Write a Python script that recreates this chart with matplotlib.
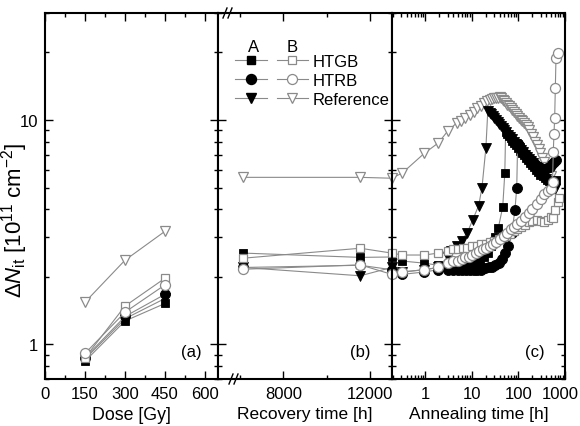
import matplotlib
matplotlib.use('Agg')
import matplotlib.pyplot as plt
import matplotlib.transforms as mtransforms
from matplotlib.ticker import MultipleLocator, LogLocator, NullFormatter, FixedLocator, FixedFormatter
from matplotlib.lines import Line2D

plt.rcParams['font.family'] = ['Liberation Sans', 'DejaVu Sans']
plt.rcParams['mathtext.fontset'] = 'custom'
plt.rcParams['mathtext.rm'] = 'Liberation Sans'
plt.rcParams['mathtext.it'] = 'Liberation Sans:italic'
plt.rcParams['mathtext.bf'] = 'Liberation Sans:bold'

# ---------------- data ----------------
# panel (a): dose
dose = [150, 300, 450]
a_sqA = [0.84, 1.27, 1.52]
a_ciA = [0.87, 1.33, 1.67]
a_refA = [0.86, 1.30, 1.60]
a_sqB = [0.87, 1.48, 1.97]
a_ciB = [0.91, 1.39, 1.84]
a_refB = [1.54, 2.37, 3.19]

# panel (b): recovery time
rec_t = [6150, 11550, 13000]
b_sqA = [2.55, 2.44, 2.45]
b_ciA = [2.2, 2.25, 2.15]
b_refA = [2.2, 2.02, 2.2]
b_sqB = [2.42, 2.68, 2.55]
b_ciB = [2.16, 2.26, 2.05]
b_refB = [5.55, 5.55, 5.5]

# panel (c): annealing time
c_t_refB = [0.19, 0.32, 0.95, 1.9, 3.0, 4.7, 5.8, 7.3, 9.1, 11.2, 13.1, 15.5, 18, 21, 24, 27, 30, 33,
            37, 40, 43, 46, 50, 54, 58, 63, 68, 74, 80, 87, 95, 103, 112, 122, 133, 145, 158, 172,
            188, 205, 225, 245, 270, 295, 325, 360, 400, 440, 490, 540, 610]
c_refB = [5.5, 5.8, 7.1, 7.9, 8.9, 9.7, 9.9, 10.2, 10.5, 10.9, 11.3, 11.6, 11.9, 12.1, 12.3, 12.4, 12.5, 12.5,
          12.5, 12.6, 12.5, 12.3, 12.1, 11.9, 11.7, 11.5, 11.3, 11.1, 10.9, 10.6, 10.4, 10.2, 10.0, 9.85, 9.7, 9.5, 9.3, 9.0,
          8.7, 8.4, 8.0, 7.7, 7.4, 7.15, 6.8, 6.5, 6.2, 5.9, 5.6, 5.3, 4.95]

c_t_refA = [0.19, 0.32, 0.95, 1.9, 3.0, 3.6, 4.7, 6.0, 8.0, 10.5, 14, 16.5, 20,
            22, 24, 26, 28, 30, 33, 36, 39, 42, 46, 50, 55, 60, 66, 72, 79, 87, 95, 105, 115, 127,
            140, 155, 170, 190, 210, 235, 260, 290, 320, 360, 400, 450, 500, 560, 600]
c_refA = [2.2, 2.1, 2.15, 2.2, 2.45, 2.6, 2.75, 2.9, 3.15, 3.6, 4.15, 5.0, 7.5,
          11.0, 10.8, 10.6, 10.4, 10.2, 9.95, 9.75, 9.55, 9.4, 9.2, 9.0, 8.8, 8.6, 8.4, 8.2, 8.0, 7.85, 7.7, 7.5, 7.35, 7.2,
          7.0, 6.85, 6.7, 6.55, 6.4, 6.2, 6.05, 5.9, 5.75, 5.6, 5.45, 5.3, 5.15, 5.0, 4.9]

c_t_sqA = [0.19, 0.32, 0.95, 1.9, 3.0, 4.0, 5.0, 6.0, 8.0, 10, 12, 15, 18, 22, 26, 31, 37, 46, 51, 53,
           57, 62, 68, 74, 81, 89, 97, 107, 118, 130, 143, 158, 175, 195, 215, 240, 265, 295, 330, 370,
           410, 460, 520, 580, 650]
c_sqA = [2.45, 2.35, 2.3, 2.25, 2.2, 2.2, 2.2, 2.2, 2.25, 2.25, 2.3, 2.35, 2.45, 2.55, 2.75, 3.0, 3.3, 4.1, 5.8, 8.8,
         8.7, 8.5, 8.3, 8.1, 7.9, 7.7, 7.5, 7.3, 7.1, 6.95, 6.8, 6.6, 6.45, 6.3, 6.15, 6.0, 5.85, 5.7, 5.6, 5.5,
         5.4, 5.35, 5.3, 5.35, 5.4]

c_t_ciA = [0.19, 0.32, 0.95, 1.9, 3.0, 4.0, 5.0, 6.0, 7.5, 9, 11, 13, 16, 19, 23, 27, 32, 38, 45, 52,
           60, 72, 84, 92, 96, 102, 110, 120, 130, 142, 155, 170, 185, 205, 225, 250, 275, 305, 340, 380,
           420, 470, 530, 590, 650]
c_ciA = [2.15, 2.05, 2.1, 2.15, 2.15, 2.15, 2.15, 2.15, 2.15, 2.15, 2.15, 2.15, 2.15, 2.18, 2.2, 2.22, 2.25, 2.3, 2.4, 2.55,
         2.75, 3.15, 3.95, 5.0, 7.8, 7.7, 7.5, 7.3, 7.15, 7.0, 6.85, 6.7, 6.6, 6.45, 6.35, 6.25, 6.15, 6.1, 6.05, 6.05,
         6.1, 6.2, 6.35, 6.5, 6.6]

c_t_sqB = [0.19, 0.32, 0.95, 1.9, 3.0, 4.0, 5.0, 6.5, 8, 10, 13, 16, 20, 25, 30, 38, 46, 55, 66, 80,
           95, 115, 140, 170, 200, 250, 300, 360, 430, 500, 560, 610, 700, 750]
c_sqB = [2.55, 2.5, 2.5, 2.55, 2.6, 2.65, 2.65, 2.7, 2.7, 2.75, 2.75, 2.8, 2.8, 2.85, 2.9, 2.95, 3.0, 3.05, 3.1, 3.2,
         3.25, 3.35, 3.4, 3.5, 3.55, 3.6, 3.55, 3.5, 3.6, 3.7, 3.65, 3.95, 4.3, 4.5]

c_t_ciB = [0.19, 0.32, 0.95, 1.9, 3.0, 4.0, 5.0, 6.0, 7.0, 8.5, 10, 12, 14, 17, 20, 24, 28, 33, 40, 48,
           57, 68, 80, 95, 115, 140, 170, 200, 250, 300, 360, 430, 500, 540, 560, 580, 600, 620, 640, 700]
c_ciB = [2.05, 2.1, 2.15, 2.2, 2.3, 2.35, 2.35, 2.4, 2.45, 2.45, 2.5, 2.55, 2.6, 2.65, 2.7, 2.75, 2.8, 2.85, 2.95, 3.05,
         3.15, 3.25, 3.35, 3.45, 3.55, 3.7, 3.85, 4.0, 4.2, 4.45, 4.7, 4.8, 4.9, 5.3, 7.2, 8.7, 10.2, 13.9, 18.9, 19.8]

dose_ticks = [0, 150, 300, 450, 600]
rec_ticks = [8000, 12000]
ann_ticks = [1, 10, 100, 1000]
ann_labels = ['1', '10', '100', '1000']
series_labels = ['HTGB', 'HTRB', 'Reference']

# ---------------- style ----------------
GRAY = '#8a8a8a'
W, H = 580, 427
fig = plt.figure(figsize=(W / 100, H / 100), dpi=100)

def px_ax(l, r, b=380, t=14):
    return [l / W, 1 - b / H, (r - l) / W, (b - t) / H]

axa = fig.add_axes(px_ax(45, 218.3))
axb = fig.add_axes(px_ax(218.3, 391.7))
axc = fig.add_axes(px_ax(391.7, 565))

def draw(ax, x, y, marker, filled, ms):
    if filled:
        kw = dict(mfc='black', mec='black', mew=0.6)
    else:
        kw = dict(mfc='white', mec=GRAY, mew=0.9)
    ax.plot(x, y, '-', color=GRAY, lw=0.8, marker=marker, ms=ms, **kw)

MS = {'s': 6.3, 'o': 7.2, 'v': 7.0}

def draw_panel(ax, x, sqA, ciA, refA, sqB, ciB, refB):
    draw(ax, x, refA, 'v', True, MS['v'])
    draw(ax, x, sqA, 's', True, MS['s'])
    draw(ax, x, ciA, 'o', True, MS['o'])
    draw(ax, x, refB, 'v', False, MS['v'])
    draw(ax, x, sqB, 's', False, MS['s'])
    draw(ax, x, ciB, 'o', False, MS['o'])

draw_panel(axa, dose, a_sqA, a_ciA, a_refA, a_sqB, a_ciB, a_refB)
draw_panel(axb, rec_t, b_sqA, b_ciA, b_refA, b_sqB, b_ciB, b_refB)

draw(axc, c_t_refB, c_refB, 'v', False, MS['v'])
draw(axc, c_t_refA, c_refA, 'v', True, MS['v'])
draw(axc, c_t_sqA, c_sqA, 's', True, MS['s'])
draw(axc, c_t_ciA, c_ciA, 'o', True, MS['o'])
draw(axc, c_t_sqB, c_sqB, 's', False, MS['s'])
draw(axc, c_t_ciB, c_ciB, 'o', False, MS['o'])

for ax in (axa, axb, axc):
    ax.set_yscale('log')
    ax.set_ylim(0.7, 30)
    ax.yaxis.set_major_locator(FixedLocator([1, 10]))
    ax.yaxis.set_minor_locator(LogLocator(base=10, subs=range(2, 10)))
    ax.tick_params(which='both', direction='in', top=True, right=True, labelsize=12, width=1.0)
    ax.tick_params(which='major', length=6, pad=5)
    ax.tick_params(which='minor', length=3)
    for s in ax.spines.values():
        s.set_linewidth(1.5)

axa.yaxis.set_major_formatter(FixedFormatter(['1', '10']))
axa.yaxis.set_minor_formatter(NullFormatter())
for ax in (axb, axc):
    ax.tick_params(which='both', labelleft=False)

axa.set_xlim(0, 650)
axa.xaxis.set_major_locator(FixedLocator(dose_ticks))
axa.xaxis.set_major_formatter(FixedFormatter([str(v) for v in dose_ticks]))
axa.xaxis.set_minor_locator(MultipleLocator(75))

axb.set_xlim(5000, 13000)
axb.xaxis.set_major_locator(FixedLocator(rec_ticks))
axb.xaxis.set_major_formatter(FixedFormatter([str(v) for v in rec_ticks]))
axb.xaxis.set_minor_locator(MultipleLocator(2000))

axc.set_xscale('log')
axc.set_xlim(0.19, 1000)
axc.xaxis.set_major_locator(FixedLocator(ann_ticks))
axc.xaxis.set_major_formatter(FixedFormatter(ann_labels))
axc.xaxis.set_minor_locator(LogLocator(base=10, subs=range(2, 10)))
axc.xaxis.set_minor_formatter(NullFormatter())

axa.set_xlabel('Dose [Gy]', fontsize=12.8, labelpad=4)
axb.set_xlabel('Recovery time [h]', fontsize=12.5, labelpad=4)
axc.set_xlabel('Annealing time [h]', fontsize=12.5, labelpad=4)
axa.set_ylabel(r'$\Delta N_{\mathrm{it}}$ [10$^{11}$ cm$^{-2}$]', fontsize=16)
axa.yaxis.set_label_coords(-0.085, 0.437)

for ax, lab, xx in ((axa, '(a)', 0.906), (axb, '(b)', 0.875), (axc, '(c)', 0.885)):
    ax.text(xx, 0.075, lab, transform=ax.transAxes, ha='right', va='center', fontsize=12)

# legend
hA = [Line2D([], [], color=GRAY, lw=0.8, marker=m, ms=MS[m], mfc='black', mec='black') for m in ('s', 'o', 'v')]
hB = [Line2D([], [], color=GRAY, lw=0.8, marker=m, ms=MS[m], mfc='white', mec=GRAY, mew=0.9) for m in ('s', 'o', 'v')]
leg = axb.legend(hA + hB, ['', '', ''] + series_labels, ncol=2, loc='upper left',
                 bbox_to_anchor=(0.096, 0.888), frameon=False, fontsize=12,
                 handlelength=1.9, handletextpad=0.25, columnspacing=0.35,
                 labelspacing=0.24, borderpad=0, borderaxespad=0)
axb.text(0.206, 0.908, 'A', transform=axb.transAxes, ha='center', va='center', fontsize=12)
axb.text(0.425, 0.908, 'B', transform=axb.transAxes, ha='center', va='center', fontsize=12)

# axis break marks
def brk(x0, y0):
    for dx in (0, 5):
        fig.add_artist(Line2D([(x0 + dx) / W, (x0 + dx + 4) / W], [1 - (y0 + 5) / H, 1 - (y0 - 5) / H],
                              color='black', lw=1.0))
brk(223, 14)
brk(229, 380)

fig.canvas.draw()
shift = mtransforms.ScaledTranslation(-5 / 100, 0, fig.dpi_scale_trans)
for lbl in axc.xaxis.get_majorticklabels():
    if lbl.get_text() == '1000':
        lbl.set_transform(lbl.get_transform() + shift)

fig.savefig('out.png', dpi=100)
